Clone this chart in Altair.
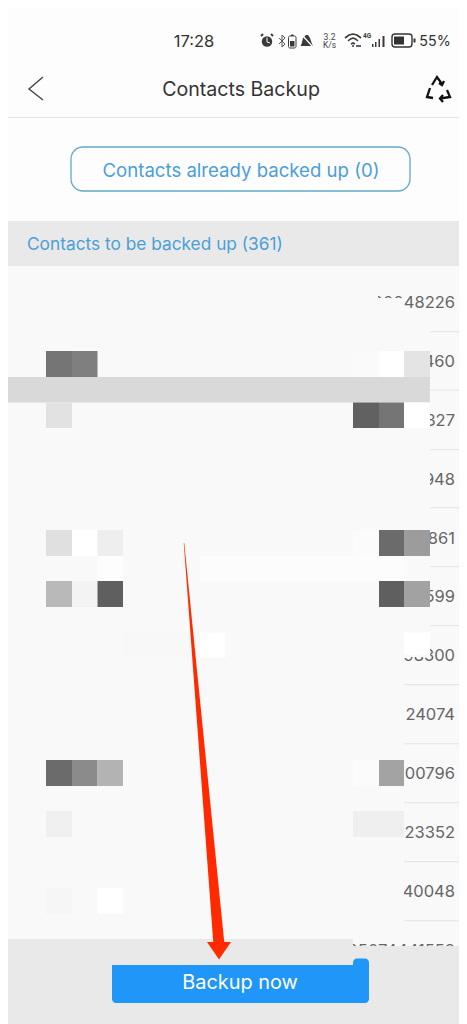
import altair as alt
import pandas as pd

BG = "#f9f9f9"
# rect layers: x, x2, y, y2, colour
base_rects = [
    (8, 459, 8, 266, "#fdfdfd"),
    (8, 459, 117, 118, "#e6e6e6"),
    (8, 459, 221, 266, "#e9e9e9"),
    (8, 459, 266, 1024, BG),
]
seps = [331, 389.5, 449, 507, 566, 625, 684, 743, 802, 861, 920]
sep_x = [430, 430, 430, 430, 430, 430, 404, 404, 404, 404, 404]
numbers = ["13800048226", "13512345460", "13623412327", "13754321948", "13812340861",
           "13998760599", "13612398300", "24074", "00796", "23352",
           "40048", "05074441558"]
number_y = [303, 362, 421, 480, 539, 597, 656, 715, 774, 833, 892, 951]
masks = [
    (8, 378, 266, 298, BG), (8, 404, 298, 331, BG), (8, 430, 331, 626, BG),
    (8, 430, 626, 657, BG), (8, 404, 657, 942, BG),
    (8, 353, 939, 1024, "#e9e9e9"), (353, 459, 946, 1024, "#e9e9e9"),
]
blocks = [
    (46, 72, 351, 377, "#757575"), (72, 97.5, 351, 377, "#7f7f7f"),
    (353, 379, 351, 377, "#fafafa"), (379, 404, 351, 377, "#ffffff"), (404, 430, 351, 377, "#e4e4e4"),
    (8, 430, 377, 402.5, "#d9d9d9"),
    (46, 72, 402.5, 428, "#e2e2e2"), (353, 379, 402.5, 428, "#616161"),
    (379, 404, 402.5, 428, "#757575"), (404, 430, 402.5, 428, "#ffffff"),
    (46, 72, 530, 556, "#e0e0e0"), (72, 97.5, 530, 556, "#ffffff"), (97.5, 123, 530, 556, "#eeeeee"),
    (353, 379, 530, 556, "#fbfbfb"), (379, 404, 530, 556, "#6b6b6b"), (404, 430, 530, 556, "#9c9c9c"),
    (97.5, 123, 556, 581, "#fdfdfd"), (200, 404, 556, 581, "#fcfcfc"),
    (46, 72, 581, 607, "#b9b9b9"), (72, 97.5, 581, 607, "#f3f3f3"), (97.5, 123, 581, 607, "#5f5f5f"),
    (379, 404, 581, 607, "#5f5f5f"), (404, 430, 581, 607, "#a2a2a2"),
    (123, 200, 632.5, 658, "#f8f8f8"), (200, 225, 632.5, 658, "#ffffff"), (404, 430, 632.5, 655, "#ffffff"),
    (46, 72, 760, 786, "#6b6b6b"), (72, 97.5, 760, 786, "#8b8b8b"), (97.5, 123, 760, 786, "#b3b3b3"),
    (353, 379, 760, 786, "#fbfbfb"), (379, 404, 760, 786, "#a3a3a3"),
    (46, 72, 811, 837, "#f0f0f0"), (353, 404, 811, 837, "#efefef"),
    (46, 72, 888, 914, "#f6f6f6"), (97.5, 123, 888, 914, "#ffffff"),
]
trail_x = [184, 219]
trail_y = [543, 945]
trail_w = [0.5, 11]
head_y = [942, 959.5]
head_x1 = [207, 219]
head_x2 = [231, 219]
# polylines
chevron = [(43, 77), (29, 89), (43, 100)]
recycle = [
    [(432, 85), (437, 77), (442, 84)],
    [(430, 88), (427, 97), (433, 98)],
    [(447, 90), (450, 97), (440, 98.5)],
    [(443, 95), (440, 98.5), (443, 102)],
    [(439, 83), (442, 85), (444, 81)],
]
bluetooth = [(279, 38), (285, 44), (282, 47), (282, 35), (285, 38), (279, 44)]
wifi = [
    [(345, 38), (349, 35), (353, 34), (357, 35), (361, 38)],
    [(348, 41), (350.5, 39), (353, 38), (355.5, 39), (358, 41)],
    [(351, 44), (353, 43), (355, 44)],
    [(352, 46), (354, 46)],
    [(356, 46), (361, 46)],
]
bars = [(372, 373.5, 44, 47), (375, 376.5, 42, 47), (378.5, 380, 39, 47), (382.5, 384.5, 36, 47)]

X = alt.X("x:Q", scale=alt.Scale(domain=[8, 459], nice=False, zero=False), axis=None)
Y = alt.Y("y:Q", scale=alt.Scale(domain=[8, 1024], nice=False, zero=False, reverse=True), axis=None)
C = alt.Color("c:N", scale=None, legend=None)


def rects(rows, **kw):
    d = pd.DataFrame(rows, columns=["x", "x2", "y", "y2", "c"])
    return alt.Chart(d).mark_rect(**kw).encode(X, alt.X2("x2:Q"), Y, alt.Y2("y2:Q"), C)


def line(points, color, width):
    d = pd.DataFrame(points, columns=["x", "y"]).assign(o=range(len(points)))
    return alt.Chart(d).mark_line(color=color, strokeWidth=width).encode(X, Y, order="o:Q")


def text(rows, **kw):
    d = pd.DataFrame(rows, columns=["x", "y", "t"])
    return alt.Chart(d).mark_text(baseline="middle", **kw).encode(X, Y, text="t:N")


def dot(px, py, size, color):
    d = pd.DataFrame({"x": [px], "y": [py]})
    return alt.Chart(d).mark_circle(color=color, size=size, opacity=1).encode(X, Y)


FONT = "Inter"
ICON = "#3a3a3a"
seps_df = [(a, 459, b, b + 1.2, "#e8e8e8") for a, b in zip(sep_x, seps)]

layers = [
    rects(base_rects),
    rects([(71, 410, 147, 191, "#fdfdfd")], cornerRadius=12, stroke="#62a9c8", strokeWidth=1.3),
    text([(194, 42, "17:28")], font=FONT, fontSize=16.5, color="#333333", align="center"),
    text([(435, 42, "55%")], font=FONT, fontSize=14.3, color="#333333", align="center"),
    text([(241, 90, "Contacts Backup")], font=FONT, fontSize=19.6, color="#333333", align="center"),
    line(chevron, "#444444", 1.4),
    text([(241, 171, "Contacts already backed up (0)")], font=FONT, fontSize=18.6, color="#4a9fd8", align="center"),
    text([(27, 245, "Contacts to be backed up (361)")], font=FONT, fontSize=17.3, color="#4a9fd8", align="left"),
    # status-bar icons
    dot(267, 41.5, 110, ICON),
    line([(261, 36), (263, 34)], ICON, 2),
    line([(271, 34), (273, 36)], ICON, 2),
    line([(267, 37.5), (267, 42), (270, 43)], "#ffffff", 1),
    line(bluetooth, "#555555", 1),
    rects([(288.5, 296, 36, 48, "#ffffff")], cornerRadius=1.5, stroke=ICON, strokeWidth=1),
    rects([(290, 294.5, 41, 46.5, ICON), (291, 293.5, 34.5, 36, ICON)]),
    alt.Chart(pd.DataFrame({"y": [35, 38, 44, 46], "x": [306, 303, 301.5, 300.5], "x2": [308, 310, 312, 313]}))
    .mark_area(color=ICON, orient="horizontal").encode(X, alt.X2("x2:Q"), Y),
    line([(301, 34), (313, 47)], "#ffffff", 1.2),
    text([(329.5, 37, "3.2"), (329.5, 45, "K/s")], font="Roboto", fontSize=8.5, color="#444444", align="center"),
] + [line(seg, ICON, 1.6) for seg in wifi] + [
    text([(367, 35.5, "4G")], font="Roboto", fontSize=6.5, fontWeight="bold", color=ICON, align="center"),
    rects([(a, b, c, d, ICON) for a, b, c, d in bars]),
    rects([(392, 412, 34, 47, "#ffffff")], cornerRadius=3, stroke="#333333", strokeWidth=1.4),
    rects([(394, 404, 36.5, 44.5, "#333333"), (413.5, 415.5, 38.5, 42.5, "#333333")]),
] + [line(seg, "#111111", 2.3) for seg in recycle] + [
    text(list(zip([455] * len(numbers), number_y, numbers)), font=FONT, fontSize=16.5, color="#666666", align="right"),
    rects(seps_df),
    rects(masks),
    rects(blocks),
    rects([(112, 369, 965, 1003, "#2196f9")], cornerRadius=4),
    rects([(353, 369, 958.5, 975, "#2196f9")], cornerRadius=4),
    rects([(112, 353, 965, 975, "#2196f9")]),
    text([(240, 983, "Backup now")], font=FONT, fontSize=19.9, color="#ffffff", align="center"),
    alt.Chart(pd.DataFrame({"x": trail_x, "y": trail_y, "w": trail_w})).mark_trail(color="#ff2a00").encode(
        X, Y, size=alt.Size("w:Q", scale=None, legend=None)
    ),
    alt.Chart(pd.DataFrame({"y": head_y, "x": head_x1, "x2": head_x2})).mark_area(
        color="#ff2a00", orient="horizontal"
    ).encode(X, alt.X2("x2:Q"), Y),
]

chart = (
    alt.layer(*layers)
    .properties(width=451, height=1016, padding=0, autosize=alt.AutoSizeParams(type="none"), background="#ffffff")
    .configure_view(stroke=None)
)
chart.save("out.html", embed_options={"renderer": "svg", "actions": False})
